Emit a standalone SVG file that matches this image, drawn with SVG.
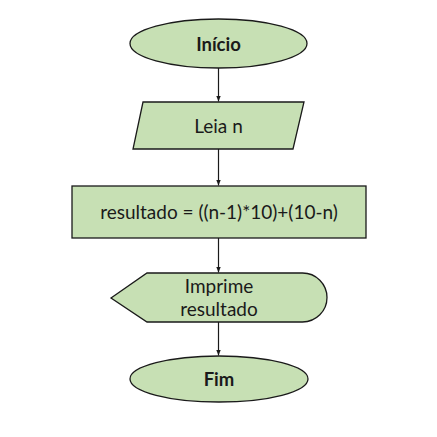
<svg xmlns="http://www.w3.org/2000/svg" width="437" height="437" viewBox="0 0 437 437">
<defs>
<style>
.s{fill:#c7e0b4;stroke:#1a1a1a;stroke-width:1.3}
.t{font-family:Lato,"Open Sans","Liberation Sans",sans-serif;font-size:19px;fill:#1a1a1a;text-anchor:middle}
.b{font-weight:bold;font-size:18.5px}
.c{stroke:#1a1a1a;stroke-width:1.2;fill:none}
</style>
<marker id="a" viewBox="0 0 10 10" refX="10" refY="5" markerWidth="5" markerHeight="5" orient="auto">
<path d="M0,1 L10,5 L0,9 z" fill="#1a1a1a"/>
</marker>
</defs>
<rect width="437" height="437" fill="#ffffff"/>
<g id="connectors">
<line class="c" x1="218.5" y1="68" x2="218.5" y2="101.5" marker-end="url(#a)"/>
<line class="c" x1="218.5" y1="149" x2="218.5" y2="185.5" marker-end="url(#a)"/>
<line class="c" x1="218.5" y1="238" x2="218.5" y2="272.5" marker-end="url(#a)"/>
<line class="c" x1="218.5" y1="322" x2="218.5" y2="355.5" marker-end="url(#a)"/>
</g>
<g id="inicio">
<ellipse class="s" cx="218.5" cy="43.5" rx="88.5" ry="24.5"/>
<text class="t b" x="218.5" y="51">Início</text>
</g>
<g id="leia">
<polygon class="s" points="143,102 304,102 293,149 133,149"/>
<text class="t" x="218.5" y="132.5">Leia n</text>
</g>
<g id="resultado">
<rect class="s" x="72" y="186" width="294" height="52"/>
<text class="t" x="219" y="219">resultado = ((n-1)*10)+(10-n)</text>
</g>
<g id="imprime">
<path class="s" d="M111,298 L147,273 L302.5,273 A24.5,24.5 0 0 1 302.5,322 L147,322 Z"/>
<text class="t" x="219" y="292.5">Imprime</text>
<text class="t" x="219" y="315.5">resultado</text>
</g>
<g id="fim">
<ellipse class="s" cx="219" cy="379" rx="89" ry="23"/>
<text class="t b" x="219" y="386">Fim</text>
</g>
</svg>
